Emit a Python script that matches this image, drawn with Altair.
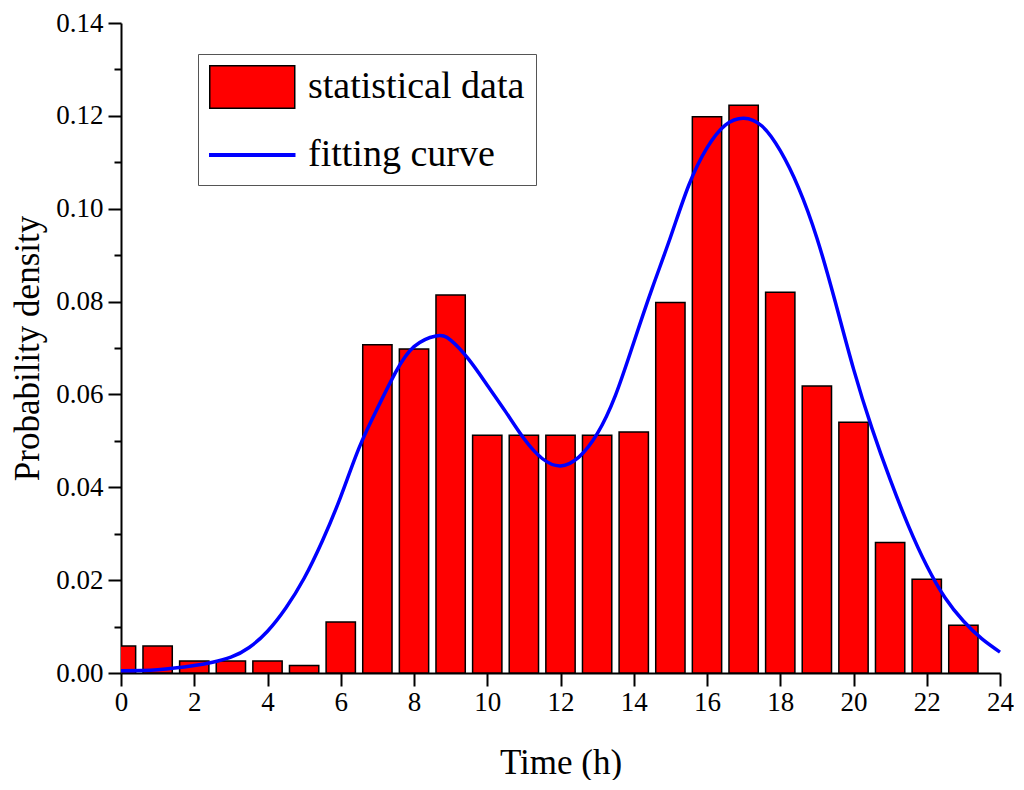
import altair as alt
import pandas as pd

# Histogram: hour-of-day bins and probability density
hours = list(range(24))
density = [0.0058, 0.0058, 0.0026, 0.0026, 0.0026, 0.0016, 0.011, 0.0707, 0.0698,
           0.0814, 0.0512, 0.0512, 0.0512, 0.0512, 0.0519, 0.0798, 0.1198, 0.1223,
           0.082, 0.0618, 0.054, 0.0281, 0.0202, 0.0103]

# Fitting curve points
curve_x = [0, 1, 2, 2.5, 3, 3.5, 4, 4.5, 5, 5.5, 6, 6.5, 7, 7.5, 8, 8.6, 9, 9.5, 10,
           10.5, 11, 11.5, 12, 12.5, 13, 13.5, 14, 14.5, 15, 15.5, 16, 16.5, 17,
           17.5, 18, 18.5, 19, 19.5, 20, 20.5, 21, 21.5, 22, 22.5, 23, 23.5, 24]
curve_y = [0.0005, 0.0007, 0.0016, 0.0023, 0.0034, 0.0055, 0.009, 0.014, 0.0204,
           0.0285, 0.038, 0.0485, 0.057, 0.0648, 0.0703, 0.0726, 0.0717, 0.0675,
           0.062, 0.0563, 0.0505, 0.0462, 0.0446, 0.0465, 0.0515, 0.0598, 0.0712,
           0.0828, 0.0938, 0.105, 0.1131, 0.118, 0.1195, 0.1178, 0.1125, 0.1045,
           0.0937, 0.080, 0.0655, 0.0528, 0.0417, 0.0317, 0.0231, 0.0162, 0.0112,
           0.0074, 0.0045]

series_names = ["statistical data", "fitting curve"]
series_fill = ["#ff0000", "#0000ff"]
series_stroke = ["#000000", "#0000ff"]
series_shapes = ["M-1,-1H3V1H-1Z", "M-1,-0.06H3V0.06H-1Z"]

x_ticks = list(range(0, 25, 2))
y_ticks = [i / 100 for i in range(0, 15)]

bars_df = pd.DataFrame({"hour": hours, "density": density})
curve_df = pd.DataFrame({"t": curve_x, "p": curve_y})
legend_df = pd.DataFrame({"series": series_names})

FONT = "Liberation Serif"

legend = alt.Legend(
    title=None,
    orient="none",
    legendX=77,
    legendY=31,
    strokeColor="#555555",
    fillColor="white",
    padding=11,
    symbolSize=1806,
    symbolStrokeWidth=1.5,
    symbolOpacity=1,
    labelOffset=55,
    labelFont=FONT,
    labelFontSize=38,
    labelColor="black",
    rowPadding=21,
    labelLimit=400,
)

x_scale = alt.Scale(domain=[0, 24], nice=False, zero=False)
y_scale = alt.Scale(domain=[0, 0.14], nice=False)

x_axis = alt.Axis(
    values=x_ticks,
    title="Time (h)",
    tickSize=13,
    labelPadding=3,
    titlePadding=30,
    labelFlush=False,
)
y_axis = alt.Axis(
    values=y_ticks,
    title="Probability density",
    format=".2f",
    labelExpr="round(datum.value * 100) % 2 === 0 ? format(datum.value, '.2f') : ''",
    tickSize={"condition": {"test": "round(datum.value * 100) % 2 === 0", "value": 13}, "value": 7},
    labelPadding=5,
    titlePadding=10,
    labelFlush=False,
)

bars = (
    alt.Chart(bars_df)
    .transform_calculate(
        x0="datum.hour - 0.4",
        x1="datum.hour + 0.4",
    )
    .mark_bar(fill="#ff0000", stroke="black", strokeWidth=1.5, clip=True, opacity=1)
    .encode(
        x=alt.X("x0:Q", scale=x_scale, axis=x_axis),
        x2="x1:Q",
        y=alt.Y("density:Q", scale=y_scale, axis=y_axis),
        y2=alt.datum(0),
    )
)

line = (
    alt.Chart(curve_df)
    .mark_line(stroke="#0000ff", strokeWidth=3.5, interpolate="natural")
    .encode(
        x=alt.X("t:Q", scale=x_scale),
        y=alt.Y("p:Q", scale=y_scale),
    )
)

# invisible keys (clipped away) that only carry the legend
keys = (
    alt.Chart(legend_df)
    .mark_point(filled=True, clip=True, opacity=1)
    .encode(
        x=alt.value(-500),
        y=alt.value(-500),
        fill=alt.Fill("series:N", scale=alt.Scale(domain=series_names, range=series_fill), legend=legend),
        stroke=alt.Stroke("series:N", scale=alt.Scale(domain=series_names, range=series_stroke), legend=legend),
        shape=alt.Shape("series:N", scale=alt.Scale(domain=series_names, range=series_shapes), legend=legend),
    )
)

chart = (
    alt.layer(bars, line, keys)
    .properties(
        width=1006,
        height=772,
        padding={"left": 2, "top": 1, "right": 0, "bottom": 0},
        autosize=alt.AutoSizeParams(type="fit", contains="padding"),
    )
    .configure_view(stroke=None)
    .configure_axis(
        labelFont=FONT,
        labelFontSize=27,
        labelColor="black",
        titleFont=FONT,
        titleFontSize=35,
        titleFontWeight="normal",
        titleColor="black",
        domainColor="black",
        domainWidth=2,
        tickColor="black",
        tickWidth=2,
        grid=False,
    )
)

chart.save("out.html", embed_options={"renderer": "svg", "actions": False})
